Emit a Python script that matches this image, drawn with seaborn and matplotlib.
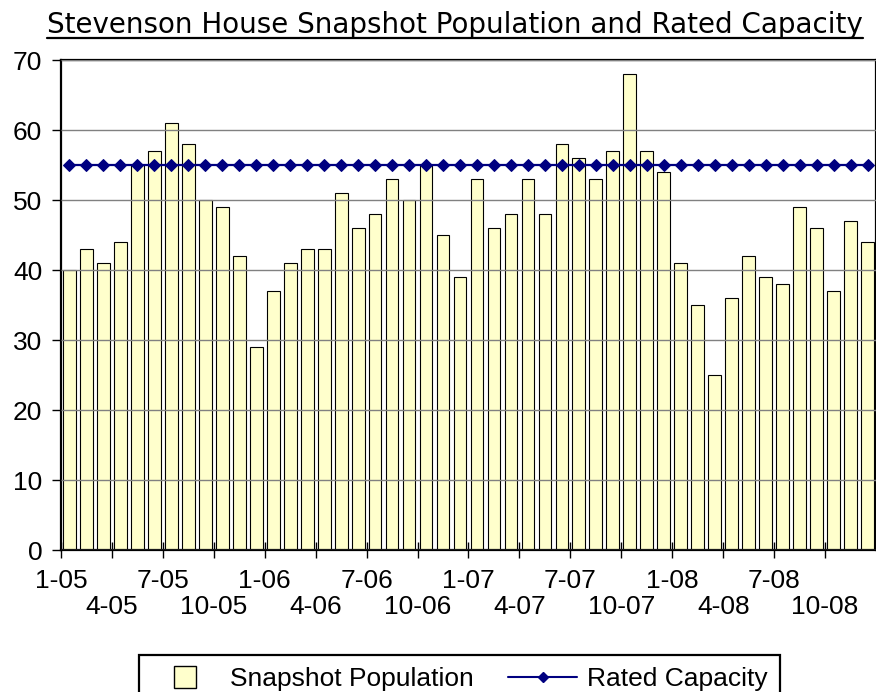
import numpy as np
import pandas as pd
import matplotlib
matplotlib.use("Agg")
import matplotlib.pyplot as plt
import seaborn as sns
from matplotlib.lines import Line2D

# monthly snapshot population, Jan 2005 .. Dec 2008
population = [40, 43, 41, 44, 55, 57, 61, 58, 50, 49, 42, 29,
              37, 41, 43, 43, 51, 46, 48, 53, 50, 55, 45, 39,
              53, 46, 48, 53, 48, 58, 56, 53, 57, 68, 57, 54,
              41, 35, 25, 36, 42, 39, 38, 49, 46, 37, 47, 44]
capacity = [55, 55, 55, 55, 55, 55, 55, 55, 55, 55, 55, 55,
            55, 55, 55, 55, 55, 55, 55, 55, 55, 55, 55, 55,
            55, 55, 55, 55, 55, 55, 55, 55, 55, 55, 55, 55,
            55, 55, 55, 55, 55, 55, 55, 55, 55, 55, 55, 55]
labels_row1 = ["1-05", "7-05", "1-06", "7-06", "1-07", "7-07", "1-08", "7-08"]
labels_row2 = ["4-05", "10-05", "4-06", "10-06", "4-07", "10-07", "4-08", "10-08"]
title = "Stevenson House Snapshot Population and Rated Capacity"

sns.set_theme(style="white")
plt.rcParams["font.family"] = ["Liberation Sans", "DejaVu Sans"]
plt.rcParams["text.color"] = "black"
plt.rcParams["xtick.color"] = "black"
plt.rcParams["ytick.color"] = "black"

W, H = 876, 692
fig = plt.figure(figsize=(W / 100, H / 100), dpi=100)
ax = fig.add_axes([61 / W, 1 - 550 / H, 1 - 61 / W, (550 - 60) / H])

df = pd.DataFrame({"month": np.arange(len(population)),
                   "population": population,
                   "capacity": capacity})

sns.barplot(data=df, x="month", y="population", color="#FFFFCC", saturation=1,
            edgecolor="black", linewidth=0.8, width=0.75, ax=ax, zorder=1)
sns.lineplot(data=df, x="month", y="capacity", color="#000080", marker="D",
             markersize=6, markeredgecolor="#000080", linewidth=1.6, ax=ax, zorder=4)

ax.set_xlim(-0.5, len(population) - 0.5)
ax.set_ylim(0, 70)
ax.set_xlabel("")
ax.set_ylabel("")

# quarter ticks sit on the month boundaries, labels in two staggered rows
ax.set_xticks(np.arange(-0.5, len(population) - 1, 6))
ax.set_xticklabels(labels_row1)
ax.set_xticks(np.arange(2.5, len(population) - 1, 6), minor=True)
ax.set_xticklabels(labels_row2, minor=True)
ax.tick_params(axis="x", which="both", direction="inout", length=11, width=1,
               color="black", labelsize=19, labelcolor="black", bottom=True)
ax.tick_params(axis="x", which="major", pad=8)
ax.tick_params(axis="x", which="minor", pad=27)

ax.set_yticks(range(0, 71, 10))
ax.tick_params(axis="y", direction="out", length=6.5, width=1, color="black",
               labelsize=19, labelcolor="black", pad=7, left=True)

ax.yaxis.grid(True, color="#808080", linewidth=1)
ax.xaxis.grid(False)
ax.set_axisbelow(False)
for side in ["left", "bottom", "top", "right"]:
    ax.spines[side].set_color("black")
    ax.spines[side].set_linewidth(1.6)

handles = [Line2D([], [], marker="s", linestyle="none", markersize=16,
                  markerfacecolor="#FFFFCC", markeredgecolor="black", markeredgewidth=1),
           Line2D([], [], color="#000080", marker="D", markersize=5, linewidth=1.5)]
leg = fig.legend(handles, ["Snapshot Population", "Rated Capacity"],
                 loc="upper center", bbox_to_anchor=(459.5 / W, 1 - 642 / H),
                 ncol=2, frameon=True, fancybox=False, edgecolor="black",
                 fontsize=19, handlelength=2.6, handletextpad=0.4,
                 columnspacing=1.3, borderpad=0.45, framealpha=1)
leg.get_frame().set_linewidth(1.6)

t = fig.text(455 / W, 1 - 33 / H, title, ha="center", va="baseline",
             fontsize=20, color="black", family="DejaVu Sans")
fig.canvas.draw()
bb = t.get_window_extent(fig.canvas.get_renderer())
fig.add_artist(Line2D([bb.x0 / W, bb.x1 / W], [1 - 38 / H, 1 - 38 / H],
                      transform=fig.transFigure, color="black", linewidth=1.6))

fig.savefig("out.png", dpi=100)
